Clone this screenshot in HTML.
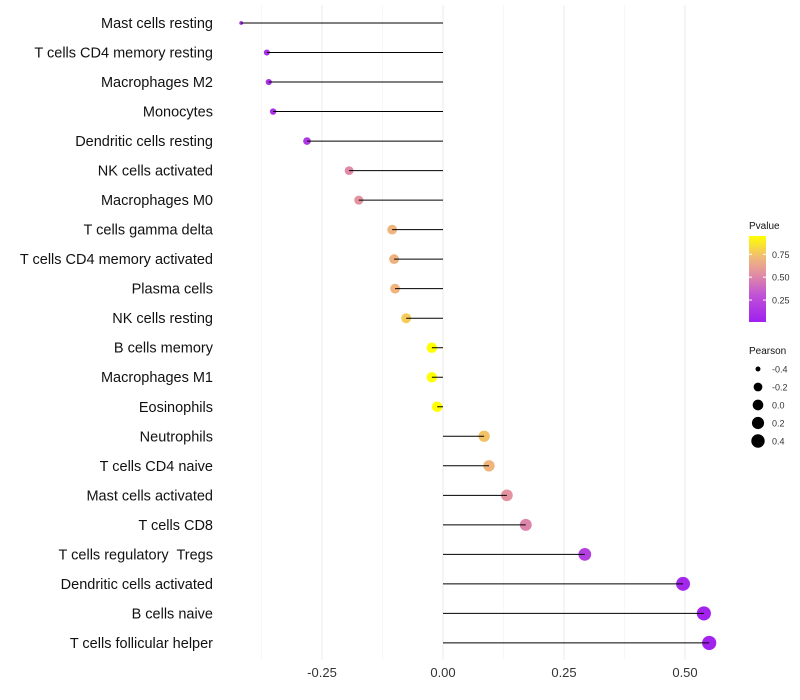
<!DOCTYPE html>
<html><head><meta charset="utf-8"><style>
body{margin:0;background:#fff;font-family:"Liberation Sans",Arial,sans-serif}
svg{display:block}
</style></head><body>
<svg id="chart" width="800" height="700" xmlns="http://www.w3.org/2000/svg"></svg>
<script>
const categories=["Mast cells resting","T cells CD4 memory resting","Macrophages M2","Monocytes","Dendritic cells resting","NK cells activated","Macrophages M0","T cells gamma delta","T cells CD4 memory activated","Plasma cells","NK cells resting","B cells memory","Macrophages M1","Eosinophils","Neutrophils","T cells CD4 naive","Mast cells activated","T cells CD8","T cells regulatory\u00a0 Tregs","Dendritic cells activated","B cells naive","T cells follicular helper"];
const pearson=[-0.417,-0.364,-0.36,-0.351,-0.281,-0.194,-0.174,-0.105,-0.101,-0.099,-0.076,-0.023,-0.023,-0.012,0.085,0.095,0.132,0.171,0.293,0.496,0.539,0.55];
const pvalues=[0.08,0.1,0.1,0.1,0.15,0.52,0.55,0.7,0.68,0.7,0.78,0.95,0.95,0.95,0.75,0.7,0.55,0.5,0.2,0.05,0.03,0.03];
const xTicks=[-0.25,0,0.25,0.5];
const xTickLabels=["-0.25","0.00","0.25","0.50"];
const pTicks=[0.25,0.5,0.75];
const sizeLegend=[-0.4,-0.2,0.0,0.2,0.4];
const NS="http://www.w3.org/2000/svg";
const svg=document.getElementById('chart');
const x=v=>443+v*484;
const y=i=>23+i*29.52;
const r=v=>1.5+5.6*Math.pow(Math.max(0,(v+0.42)/0.97),0.45);
const pMin=0.01,pMax=0.95;
const stops=[[0,[160,32,240]],[0.3,[190,80,215]],[0.55,[225,140,165]],[0.75,[240,185,120]],[1,[255,255,0]]];
function col(p){let t=Math.max(0,Math.min(1,(p-pMin)/(pMax-pMin)));for(let k=1;k<stops.length;k++){if(t<=stops[k][0]){const a=stops[k-1],b=stops[k],f=(t-a[0])/(b[0]-a[0]);return 'rgb('+a[1].map((c,j)=>Math.round(c+(b[1][j]-c)*f)).join(',')+')';}}return 'rgb(255,255,0)';}
function el(tag,attrs,parent){const e=document.createElementNS(NS,tag);for(const k in attrs)e.setAttribute(k,attrs[k]);(parent||svg).appendChild(e);return e;}
const grid=el('g',{});


for(let v=-0.375;v<=0.6;v+=0.125){const major=xTicks.some(t=>Math.abs(t-v)<1e-6);const l=el('line',{x1:x(v),x2:x(v),y1:5,y2:660,stroke:major?'#ebebeb':'#f4f4f4','stroke-width':major?1:0.7},grid);

}
xTicks.forEach((t,i)=>{const tx=el('text',{x:x(t),y:677,'text-anchor':'middle','font-size':13,fill:'#333'});tx.textContent=xTickLabels[i];

});
categories.forEach((c,i)=>{
 const lb=el('text',{x:213,y:y(i)+5,'text-anchor':'end','font-size':14.5,fill:'#111'});lb.textContent=c;
 
 
 const pt=el('circle',{cx:x(pearson[i]),cy:y(i),r:r(pearson[i]),fill:col(pvalues[i])});
 
 
 const ln=el('line',{x1:x(0),x2:x(pearson[i]),y1:y(i),y2:y(i),stroke:'#000','stroke-width':1});
 
 
});
const lg=el('g',{});


const t1=el('text',{x:749,y:229,'font-size':10,fill:'#111'},lg);t1.textContent='Pvalue';
const defs=el('defs',{});const gr=el('linearGradient',{id:'pg',x1:0,y1:1,x2:0,y2:0},defs);
for(let k=0;k<=20;k++){const p=pMin+(pMax-pMin)*k/20;el('stop',{offset:(k/20),'stop-color':col(p)},gr);}
const cb=el('rect',{x:749,y:236,width:17,height:86,fill:'url(#pg)'},lg);


const py=p=>322-(p-pMin)/(pMax-pMin)*86;
pTicks.forEach(p=>{el('line',{x1:749,x2:752,y1:py(p),y2:py(p),stroke:'#fff'},lg);el('line',{x1:763,x2:766,y1:py(p),y2:py(p),stroke:'#fff'},lg);const tt=el('text',{x:772,y:py(p)+3.5,'font-size':9,fill:'#333'},lg);tt.textContent=p.toFixed(2);

});
const sg=el('g',{});


const t2=el('text',{x:749,y:354,'font-size':10,fill:'#111'},sg);t2.textContent='Pearson';
sizeLegend.forEach((v,k)=>{const cy=369+k*18;const c=el('circle',{cx:758,cy:cy,r:r(v),fill:'#000'},sg);


const tt=el('text',{x:772,y:cy+3.5,'font-size':9,fill:'#333'},sg);tt.textContent=v.toFixed(1);

});
</script>
</body></html>
